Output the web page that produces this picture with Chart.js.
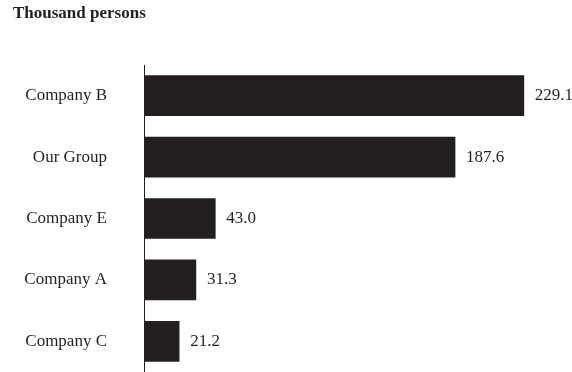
<!DOCTYPE html>
<html>
<head>
<meta charset="utf-8">
<script src="https://cdn.jsdelivr.net/npm/chart.js@4/dist/chart.umd.min.js"></script>
<style>
  html, body { margin: 0; padding: 0; background: #fff; }
  #wrap { position: relative; width: 572px; height: 372px; }
  #unit {
    position: absolute; left: 13px; top: 4px;
    font: bold 17px/17px "Liberation Serif", "Times New Roman", serif;
    color: #231f20; white-space: nowrap;
  }
</style>
</head>
<body>
<div id="wrap">
  <div id="unit">Thousand persons</div>
  <canvas id="chart" width="572" height="372"></canvas>
</div>
<script>
// Employees by company, thousand persons
const companies = ['Company B', 'Our Group', 'Company E', 'Company A', 'Company C'];
const employees = [229.1, 187.6, 43.0, 31.3, 21.2];
const axisMax = 250;

const ink = '#231f20';
const serif = '"Liberation Serif", "Times New Roman", serif';

// writes the value just past the end of each bar
const valueLabels = {
  id: 'valueLabels',
  afterDatasetsDraw(chart) {
    const ctx = chart.ctx;
    const meta = chart.getDatasetMeta(0);
    ctx.save();
    ctx.font = '17px ' + serif;
    ctx.fillStyle = ink;
    ctx.textAlign = 'left';
    ctx.textBaseline = 'middle';
    meta.data.forEach((bar, i) => {
      ctx.fillText(employees[i].toFixed(1), bar.x + 11, bar.y);
    });
    ctx.restore();
  }
};

new Chart(document.getElementById('chart'), {
  type: 'bar',
  data: {
    labels: companies,
    datasets: [{
      data: employees,
      backgroundColor: ink,
      borderWidth: 0,
      barThickness: 40
    }]
  },
  options: {
    indexAxis: 'y',
    responsive: false,
    animation: false,
    layout: {
      autoPadding: false,
      padding: { top: 65, right: 13.5, bottom: -2, left: 0 }
    },
    plugins: {
      legend: { display: false },
      tooltip: { enabled: false }
    },
    scales: {
      x: { display: false, min: 0, max: axisMax },
      y: {
        grid: { display: false, drawTicks: false },
        border: { display: true, color: ink, width: 1 },
        ticks: {
          color: ink,
          font: { family: serif, size: 17 },
          padding: 37
        },
        afterFit(scale) {
          // fixed gutter for the names; axis runs to the bottom edge
          scale.width = 144;
          scale.paddingTop = 0;
          scale.paddingBottom = -2;
        }
      }
    }
  },
  plugins: [valueLabels]
});
</script>
</body>
</html>
